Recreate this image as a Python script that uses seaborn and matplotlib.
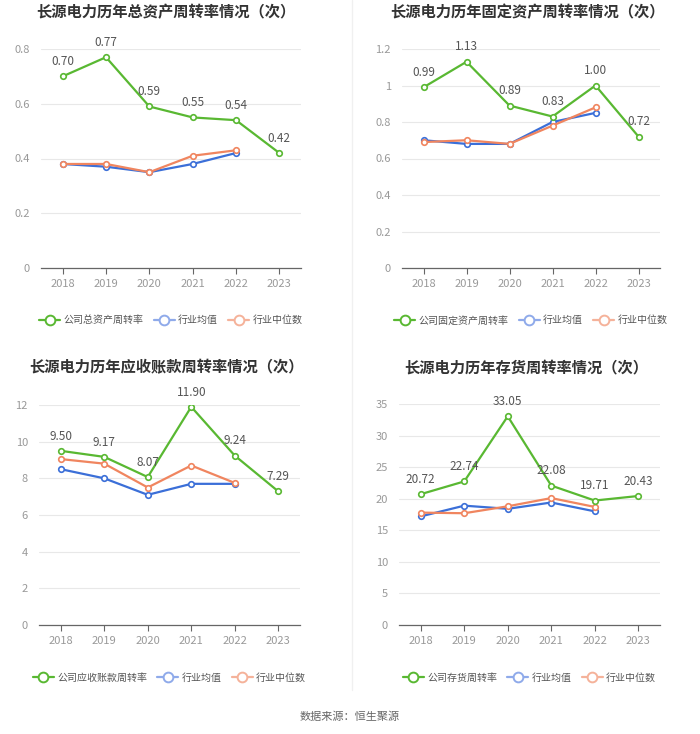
import pandas as pd
import seaborn as sns
from matplotlib import pyplot as plt
from matplotlib.lines import Line2D

sns.set_style('white')
plt.rcParams['font.family'] = ['Noto Sans CJK SC', 'DejaVu Sans']

years = ['2018', '2019', '2020', '2021', '2022', '2023']

# 总资产周转率
total_company = [0.70, 0.77, 0.59, 0.55, 0.54, 0.42]
total_avg = [0.38, 0.37, 0.35, 0.38, 0.42]
total_median = [0.38, 0.38, 0.35, 0.41, 0.43]

# 固定资产周转率
fixed_company = [0.99, 1.13, 0.89, 0.83, 1.00, 0.72]
fixed_avg = [0.70, 0.68, 0.68, 0.80, 0.85]
fixed_median = [0.69, 0.70, 0.68, 0.78, 0.88]

# 应收账款周转率
recv_company = [9.50, 9.17, 8.07, 11.90, 9.24, 7.29]
recv_avg = [8.5, 8.0, 7.1, 7.7, 7.7]
recv_median = [9.05, 8.8, 7.5, 8.7, 7.75]

# 存货周转率
inv_company = [20.72, 22.74, 33.05, 22.08, 19.71, 20.43]
inv_avg = [17.2, 18.9, 18.4, 19.4, 18.0]
inv_median = [17.8, 17.7, 18.8, 20.1, 18.7]

green = '#59b832'
blue = '#3b6fd8'
orange = '#f0855f'

charts = [
    ('长源电力历年总资产周转率情况（次）', '公司总资产周转率', total_company, total_avg, total_median,
     [0, 0.2, 0.4, 0.6, 0.8], ['0', '0.2', '0.4', '0.6', '0.8'], 0.8,
     [41 / 700, 1 - 268 / 734, 260 / 700, 219 / 734], (166, 12)),
    ('长源电力历年固定资产周转率情况（次）', '公司固定资产周转率', fixed_company, fixed_avg, fixed_median,
     [0, 0.2, 0.4, 0.6, 0.8, 1.0, 1.2], ['0', '0.2', '0.4', '0.6', '0.8', '1', '1.2'], 1.2,
     [402 / 700, 1 - 268 / 734, 258 / 700, 219 / 734], (527, 12)),
    ('长源电力历年应收账款周转率情况（次）', '公司应收账款周转率', recv_company, recv_avg, recv_median,
     [0, 2, 4, 6, 8, 10, 12], ['0', '2', '4', '6', '8', '10', '12'], 12,
     [39 / 700, 1 - 625 / 734, 261 / 700, 220 / 734], (166, 367)),
    ('长源电力历年存货周转率情况（次）', '公司存货周转率', inv_company, inv_avg, inv_median,
     [0, 5, 10, 15, 20, 25, 30, 35], ['0', '5', '10', '15', '20', '25', '30', '35'], 35,
     [399 / 700, 1 - 625 / 734, 261 / 700, 221 / 734], (526, 367)),
]

fig = plt.figure(figsize=(7, 7.34), dpi=100)

for title, label, comp, avg, med, ticks, tlabels, top, pos, tpos in charts:
    ax = fig.add_axes(pos)
    x_all = list(range(len(years)))
    x_ind = list(range(len(avg)))
    sns.lineplot(x=x_ind, y=avg, ax=ax, color=blue, linewidth=1.6, marker='o',
                 markersize=4, markerfacecolor='white', markeredgecolor=blue, markeredgewidth=1.2)
    sns.lineplot(x=x_ind, y=med, ax=ax, color=orange, linewidth=1.6, marker='o',
                 markersize=4, markerfacecolor='white', markeredgecolor=orange, markeredgewidth=1.2)
    sns.lineplot(x=x_all, y=comp, ax=ax, color=green, linewidth=1.6, marker='o',
                 markersize=4, markerfacecolor='white', markeredgecolor=green, markeredgewidth=1.2)
    for xi, v in zip(x_all, comp):
        ax.annotate(f'{v:.2f}', (xi, v), xytext=(0, 6), textcoords='offset points',
                    ha='center', va='bottom', fontsize=8.5, color='#555555')
    ax.set_xlim(-0.5, 5.5)
    ax.set_ylim(0, top)
    ax.set_yticks(ticks)
    ax.set_yticklabels(tlabels)
    ax.set_xticks(x_all)
    ax.set_xticklabels(years)
    ax.tick_params(axis='y', length=0, labelsize=8, labelcolor='#999999', pad=8)
    ax.tick_params(axis='x', length=4, color='#666666', labelsize=8, labelcolor='#999999', pad=4, bottom=True)
    ax.grid(axis='y', color='#e8e8e8', linewidth=0.8)
    ax.set_axisbelow(True)
    for s in ['top', 'right', 'left']:
        ax.spines[s].set_visible(False)
    ax.spines['bottom'].set_color('#666666')
    ax.spines['bottom'].set_linewidth(0.9)
    fig.text(tpos[0] / 700, 1 - tpos[1] / 734, title, ha='center', va='center',
             fontsize=11, fontweight='bold', color='#333333')
    handles = [
        Line2D([], [], color=green, linewidth=1.6, marker='o', markersize=7,
               markerfacecolor='white', markeredgecolor=green, markeredgewidth=1.4),
        Line2D([], [], color='#8faaea', linewidth=1.6, marker='o', markersize=7,
               markerfacecolor='white', markeredgecolor='#8faaea', markeredgewidth=1.4),
        Line2D([], [], color='#f5b29a', linewidth=1.6, marker='o', markersize=7,
               markerfacecolor='white', markeredgecolor='#f5b29a', markeredgewidth=1.4),
    ]
    ax.legend(handles, [label, '行业均值', '行业中位数'], loc='upper center',
              bbox_to_anchor=(0.5, -0.175), ncol=3, frameon=False, fontsize=7.2,
              labelcolor='#555555', handlelength=2.1, handletextpad=0.35, columnspacing=1.0)

fig.add_artist(Line2D([352 / 700, 352 / 700], [1 - 690 / 734, 1.0], color='#f0f0f0', linewidth=1))
fig.text(0.5, 1 - 717 / 734, '数据来源：恒生聚源', ha='center', va='center', fontsize=8, color='#666666')

fig.savefig('out.png', dpi=100)
